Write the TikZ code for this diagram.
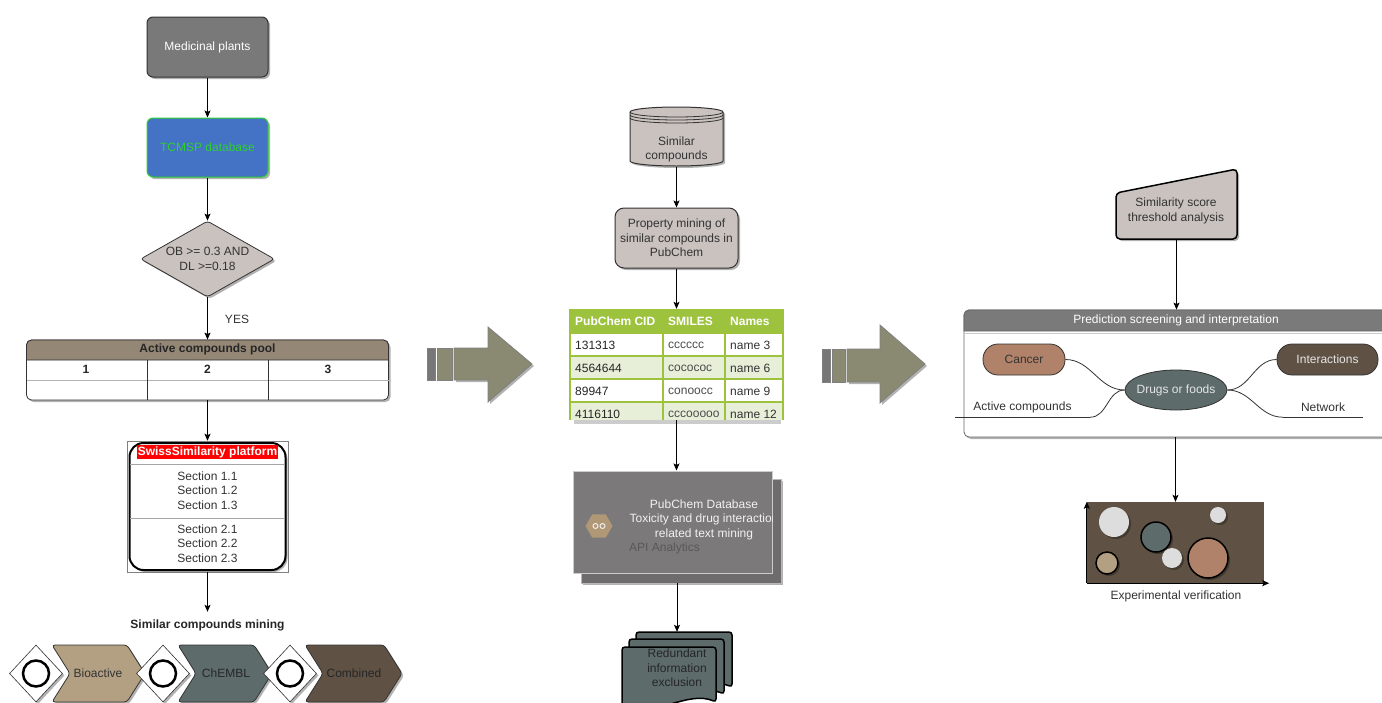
\documentclass[tikz,border=0pt]{standalone}
\usepackage{fontspec}
\setmainfont{Liberation Sans}
\usetikzlibrary{shapes.geometric,shadows,arrows.meta}
\definecolor{txt}{HTML}{333333}
\definecolor{darkline}{HTML}{333333}
\definecolor{medgray}{HTML}{797979}
\definecolor{tcblue}{HTML}{4472C4}
\definecolor{tcgreen}{HTML}{2ED02E}
\definecolor{lightbox}{HTML}{C9C2BF}
\definecolor{poolbrown}{HTML}{948776}
\definecolor{tanc}{HTML}{B3A083}
\definecolor{slate}{HTML}{5D6B6B}
\definecolor{darkbrown}{HTML}{5F5244}
\definecolor{terra}{HTML}{B0826A}
\definecolor{olive}{HTML}{8A8972}
\definecolor{stripegray}{HTML}{777777}
\definecolor{tgreen}{HTML}{9DC33E}
\definecolor{tlight}{HTML}{E7EFD8}
\definecolor{pubgray}{HTML}{7B7979}
\definecolor{pubgraytwo}{HTML}{6E6C6C}
\definecolor{hextan}{HTML}{B09775}
\definecolor{hdrgray}{HTML}{7A7A7A}
\definecolor{lightc}{HTML}{DDDDDD}
\definecolor{apigray}{HTML}{595959}
\newcommand\myfs{\fontsize{12}{14.5}\selectfont}
\newcommand\chevron[3]{\draw[draw=darkline, line width=0.8pt, fill=#3, rounded corners=3pt, shad] (#1,645) -- ({#2-18},645) -- (#2,673.5) -- ({#2-18},702) -- (#1,702) -- ({#1+18},673.5) -- cycle;}
\newcommand\docsh[4]{\draw[draw=black, line width=1.5pt, fill=slate, rounded corners=3pt] (#1,#2) -- ({#1+#3},#2) -- ({#1+#3},{#2+#4-6}) .. controls ({#1+0.7*#3},{#2+#4-18}) and ({#1+0.35*#3},{#2+#4+10}) .. (#1,{#2+#4-2}) -- cycle;}
\begin{document}
\begin{tikzpicture}[x=1pt,y=-1pt,
  tx/.style={font=\myfs, text=txt, align=center, inner sep=0pt},
  tb/.style={tx, font=\myfs\bfseries},
  shad/.style={drop shadow={shadow xshift=2pt,shadow yshift=-2pt,opacity=0.3,fill=black}},
  conn/.style={draw=black, line width=0.8pt, -{Stealth[length=7pt,width=6pt,inset=1.5pt]}},
  curv/.style={draw=darkline, line width=0.8pt}]
\useasboundingbox (0,0) rectangle (1382,702);
\clip (0,0) rectangle (1382,702);

% ---------------- Left column ----------------
\node[tx, rounded corners=6pt, draw=darkline, line width=1pt, fill=medgray, text=white, minimum width=121pt, minimum height=60pt, shad] (mp) at (207.5,47) {Medicinal plants};
\node[tx, rounded corners=6pt, draw=tcgreen, line width=1pt, fill=tcblue, text=tcgreen, minimum width=121pt, minimum height=59pt, shad] (tcm) at (207.5,147.5) {TCMSP database};
\node[tx, diamond, aspect=1.76, rounded corners=3pt, draw=darkline, line width=0.8pt, fill=lightbox, minimum width=134pt, minimum height=76pt, shad] (dia) at (207.5,259) {OB >= 0.3 AND\\DL >=0.18};
\node[tx] (yes) at (237,319) {YES};

\node[draw=darkline, line width=0.8pt, fill=white, rounded corners=5pt, minimum width=362pt, minimum height=60pt, inner sep=0pt, shad] (pool) at (207.5,370) {};
\draw[draw=darkline, line width=0.8pt, fill=poolbrown] (26.5,360) -- (26.5,345) arc[start angle=180,end angle=90,radius=5pt] -- (383.5,340) arc[start angle=90,end angle=0,radius=5pt] -- (388.5,360) -- cycle;
\draw[gray!60, line width=0.8pt] (26.5,380) -- (388.5,380);
\draw[darkline, line width=0.8pt] (147,360) -- (147,400) (268,360) -- (268,400);
\node[tb, text=black!85] (pooltitle) at (207.5,349.5) {Active compounds pool};
\node[tb, text=black!85] (ca) at (86,369.5) {1};
\node[tb, text=black!85] (cb) at (207.5,369.5) {2};
\node[tb, text=black!85] (cc) at (328,369.5) {3};

\node[draw=gray, line width=0.5pt, minimum width=161pt, minimum height=131pt, inner sep=0pt] (swf) at (207.5,506.5) {};
\node[draw=black, line width=2pt, fill=white, rounded corners=14pt, minimum width=156pt, minimum height=127pt, inner sep=0pt, shad] (sw) at (207.5,506.5) {};
\draw[gray!70, line width=0.8pt] (130,464) -- (285,464) (130,518) -- (285,518);
\node[tb, fill=red, text=white, inner sep=1pt] (swt) at (207.5,452) {SwissSimilarity platform};
\node[tx] (secone) at (207.5,490.5) {Section 1.1\\Section 1.2\\Section 1.3};
\node[tx] (sectwo) at (207.5,543.5) {Section 2.1\\Section 2.2\\Section 2.3};
\node[tb, text=black!85, minimum height=26pt] (scm) at (207.5,625) {Similar compounds mining};

\chevron{52}{145}{tanc}
\chevron{178}{272}{slate}
\chevron{305}{402}{darkbrown}
\node[tx] (bio) at (98,673.5) {Bioactive};
\node[tx, text=black!85] (che) at (226,673.5) {ChEMBL};
\node[tx, text=black!85] (com) at (354,673.5) {Combined};
\foreach \i/\x in {1/36,2/163,3/290} {
  \node[diamond, aspect=0.93, draw=darkline, line width=0.6pt, fill=white, minimum width=53pt, minimum height=57pt, inner sep=0pt, shad] (dm\i) at (\x,673.5) {};
  \node[circle, draw=black, line width=2.5pt, fill=white, minimum size=26pt, inner sep=0pt] (ov\i) at (\x,673.5) {};
}

% ---------------- Big arrows ----------------
\draw[draw=gray, fill=stripegray, line width=0.6pt] (427,348) rectangle (435,380);
\draw[draw=gray, fill=olive, line width=0.6pt] (437,348) rectangle (452,380);
\draw[draw=gray, fill=olive, line width=0.8pt, shad] (454,348) -- (488,348) -- (488,327) -- (532,364) -- (488,402) -- (488,380) -- (454,380) -- cycle;
\draw[draw=gray, fill=stripegray, line width=0.6pt] (822,349) rectangle (830,382);
\draw[draw=gray, fill=olive, line width=0.6pt] (832,349) rectangle (845,382);
\draw[draw=gray, fill=olive, line width=0.8pt, shad] (847,349) -- (880,349) -- (880,325) -- (925,364) -- (880,403) -- (880,382) -- (847,382) -- cycle;

% ---------------- Middle column ----------------
\path[fill=lightbox, draw=darkline, line width=1pt, shad] (630,112) -- (630,161) arc[start angle=180,end angle=360,x radius=46.5pt,y radius=5pt] -- (723,112) arc[start angle=0,end angle=180,x radius=46.5pt,y radius=5pt] -- cycle;
\draw[darkline, line width=0.8pt] (630,112) arc[start angle=180,end angle=360,x radius=46.5pt,y radius=5pt] (630,115) arc[start angle=180,end angle=360,x radius=46.5pt,y radius=5pt] (630,118) arc[start angle=180,end angle=360,x radius=46.5pt,y radius=5pt];
\node[minimum width=93pt, minimum height=60pt, inner sep=0pt] (simc) at (676.5,137) {};
\node[tx] (simct) at (676.5,149.5) {Similar\\compounds};

\node[tx, rounded corners=9pt, draw=darkline, line width=1pt, fill=lightbox, minimum width=123pt, minimum height=60pt, shad] (prop) at (676.5,238) {Property mining of\\similar compounds in\\PubChem};

\fill[tgreen] (570,309) rectangle (783,333);
\fill[white] (570,333) rectangle (783,356);
\fill[tlight] (570,356) rectangle (783,379);
\fill[white] (570,379) rectangle (783,402);
\fill[tlight] (570,402) rectangle (783,420);
\fill[black, opacity=0.2] (574,420) rectangle (781,424);
\draw[tgreen, line width=1.2pt] (570,333) -- (783,333) (570,356) -- (783,356) (570,379) -- (783,379) (570,402) -- (783,402);
\draw[tgreen, line width=1.2pt] (570,309) -- (570,420) (663,309) -- (663,420) (725,309) -- (725,420) (783,309) -- (783,420);
\node[tb, text=white, anchor=west] (tha) at (575,321) {PubChem CID};
\node[tb, text=white, anchor=west] (thb) at (668,321) {SMILES};
\node[tb, text=white, anchor=west] (thc) at (730,321) {Names};
\foreach \y/\a/\b/\c [count=\k] in {345/131313/cccccc/name 3, 368/4564644/cocococ/name 6, 391/89947/conoocc/name 9, 414/4116110/cccooooo/name 12} {
  \node[tx, anchor=west, text=black!85] (ra\k) at (575,\y) {\a};
  \node[tx, anchor=west, text=black!70] (rb\k) at (668,\y) {\b};
  \node[tx, anchor=west, text=black!80] (rc\k) at (730,\y) {\c};
}
\node[minimum width=213pt, minimum height=111pt, inner sep=0pt] (tbl) at (676.5,364.5) {};

\node[fill=pubgraytwo, draw=gray!55, line width=0.8pt, minimum width=200pt, minimum height=104pt, inner sep=0pt, shad] (pubback) at (681,531) {};
\node[fill=pubgray, draw=gray!40, line width=1pt, minimum width=199pt, minimum height=102pt, inner sep=0pt] (pub) at (672.5,522) {};
\node[regular polygon, regular polygon sides=6, fill=hextan, minimum size=27pt, inner sep=0pt] (hex) at (599,526) {};
\draw[white!85!gray, line width=1pt] (595.5,526) circle[radius=2.5pt] (602.5,526) circle[radius=2.5pt];
\begin{scope}
\clip (573,471) rectangle (772,573);
\node[tx, text=white!95!black] (pubt) at (704,519.5) {PubChem Database\\Toxicity and drug interaction\\related text mining};
\end{scope}
\node[tx, text=apigray, anchor=west] (api) at (629,548) {API Analytics};

\docsh{636}{632}{96}{61}
\docsh{629}{639}{95}{61}
\docsh{622}{647}{94}{61}
\node[tx, text=black!85, minimum height=72pt] (red) at (677,668) {Redundant\\information\\exclusion};

% ---------------- Right column ----------------
\draw[fill=lightbox, draw=black, line width=1.5pt, rounded corners=4pt, shad] (1116,193) -- (1237,169) -- (1237,239) -- (1116,239) -- cycle;
\node[minimum width=121pt, minimum height=46pt, inner sep=0pt] (sim) at (1176.5,216) {};
\node[tx] (simt) at (1176,211) {Similarity score\\threshold analysis};

\node[draw=gray!80!black, line width=0.8pt, fill=white, rounded corners=5pt, minimum width=436pt, minimum height=127pt, inner sep=0pt, shad] (pred) at (1182,373.5) {};
\draw[draw=gray!80!black, line width=0.8pt, fill=hdrgray] (964,331) -- (964,315) arc[start angle=180,end angle=90,radius=5pt] -- (1400,310) -- (1400,331) -- cycle;
\draw[gray!40, line width=0.8pt] (964,333.5) -- (1400,333.5);
\node[tx, text=white] (predt) at (1176,320.5) {Prediction screening and interpretation};

\node[tx, fill=terra, draw=darkline, line width=0.8pt, rounded corners=15pt, minimum width=82pt, minimum height=31pt, text=black!80] (can) at (1024,359.5) {Cancer};
\node[tx, fill=darkbrown, draw=darkline, line width=0.8pt, rounded corners=15pt, minimum width=101pt, minimum height=31pt, text=white!90!black] (intr) at (1327.5,359.5) {Interactions};
\node[tx, ellipse, fill=slate, draw=darkline, line width=0.8pt, minimum width=102pt, minimum height=40pt, text=white!90!black] (drg) at (1176,390) {\makebox[0pt]{Drugs or foods}};
\node[tx, minimum width=135pt, minimum height=20pt] (act) at (1022.5,407) {Active compounds};
\node[tx, minimum width=80pt, minimum height=20pt] (net) at (1323,407) {Network};
\draw[curv] (act.south west) -- (act.south east);
\draw[curv] (net.south west) -- (net.south east);
\draw[curv] (can.east) to[out=0,in=180] (drg.west);
\draw[curv] (drg.west) to[out=180,in=0] (act.south east);
\draw[curv] (drg.east) to[out=0,in=180] (intr.west);
\draw[curv] (drg.east) to[out=0,in=180] (net.south west);

\node[fill=darkbrown, minimum width=177pt, minimum height=81pt, inner sep=0pt] (expt) at (1175.5,542.5) {};
\fill[lightc, shad] (1114,522) circle[radius=15pt];
\fill[lightc, shad] (1218,515) circle[radius=8pt];
\draw[fill=slate, line width=1.5pt, shad] (1156,537) circle[radius=15pt];
\fill[lightc, shad] (1172,558) circle[radius=10pt];
\draw[fill=tanc, line width=1.5pt, shad] (1107,563) circle[radius=11pt];
\draw[fill=terra, line width=1.5pt, shad] (1208,558) circle[radius=20pt];
\draw[conn, line width=1pt] (expt.south west) -- (expt.north west);
\draw[conn, line width=1pt] (expt.south west) -- ([xshift=5pt]expt.south east);
\node[tx] (expl) at (1176,596) {Experimental verification};

% ---------------- Connectors ----------------
\draw[conn] (mp) -- (tcm);
\draw[conn] (tcm) -- (dia);
\draw[conn] (dia) -- (pool);
\draw[conn] (pool) -- (swf);
\draw[conn] (swf) -- (scm);
\draw[conn] (simc) -- (prop);
\draw[conn] (prop) -- (tbl);
\draw[conn] (tbl) -- (tbl |- pub.north);
\draw[conn] (red |- pubback.south) -- (red);
\draw[conn] (sim) -- (sim |- pred.north);
\draw[conn] (expt |- pred.south) -- (expt);
\end{tikzpicture}
\end{document}
